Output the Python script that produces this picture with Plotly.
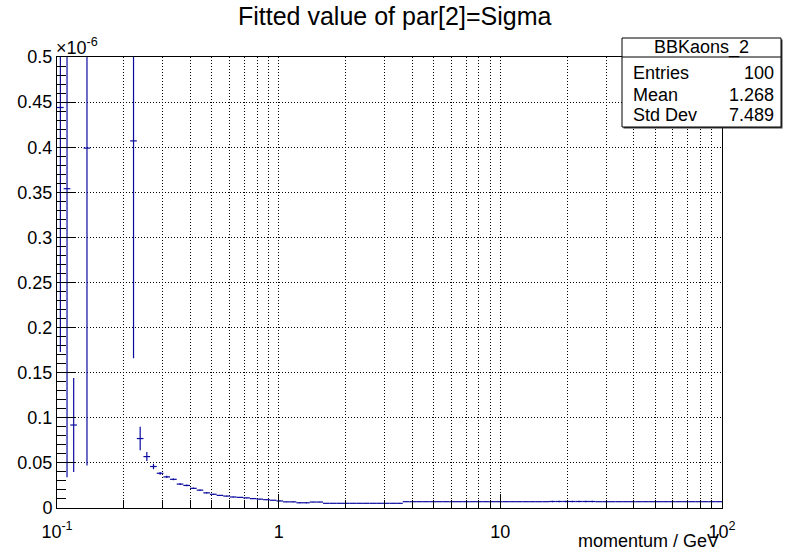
import numpy as np
import plotly.graph_objects as go

# Binning: 100 logarithmic bins from 0.1 to 100 GeV
n_bins = 100
edges = np.logspace(-1, 2, n_bins + 1)

# Fitted sigma per momentum bin, in units of 1e-6 (None = empty bin)
sigma = [
    0.444, 0.354, 0.092, None, 0.399, None, None, None, None, None,
    None, 0.407, 0.077, 0.057, 0.046, 0.0385, 0.0345, 0.0318, 0.0265, 0.0250,
    0.0218, 0.0198, 0.0168, 0.0152, 0.0140, 0.0132, 0.0122, 0.0118, 0.0112, 0.0104,
    0.0098, 0.0092, 0.0086, 0.0078, 0.0068, 0.0068, 0.0058, 0.0058, 0.0066, 0.0066,
    0.0052, 0.0052, 0.0052, 0.0052, 0.0052, 0.0052, 0.0052, 0.0052, 0.0052, 0.0052,
    0.0052, 0.0052, 0.0070, 0.0070, 0.0070, 0.0070, 0.0070, 0.0070, 0.0070, 0.0070,
    0.0070, 0.0070, 0.0070, 0.0070, 0.0070, 0.0070, 0.0070, 0.0070, 0.0070, 0.0070,
    0.0070, 0.0070, 0.0070, 0.0070, 0.0072, 0.0072, 0.0072, 0.0072, 0.0072, 0.0072,
    0.0072, 0.0070, 0.0070, 0.0070, 0.0070, 0.0070, 0.0070, 0.0070, 0.0070, 0.0070,
    0.0070, 0.0070, 0.0070, 0.0070, 0.0070, 0.0070, 0.0070, 0.0070, 0.0070, 0.0070,
]
sigma_err = [
    0.271, 0.320, 0.052, 0.0, 0.352, 0.0, 0.0, 0.0, 0.0, 0.0,
    0.0, 0.241, 0.013, 0.005, 0.003, 0.0015, 0.0012, 0.0010, 0.0010, 0.0010,
    0.0008, 0.0007, 0.0006, 0.0006, 0.0005, 0.0005, 0.0005, 0.0005, 0.0004, 0.0004,
    0.0004, 0.0004, 0.0004, 0.0004, 0.0003, 0.0003, 0.0006, 0.0006, 0.0003, 0.0003,
    0.0002, 0.0002, 0.0002, 0.0002, 0.0002, 0.0002, 0.0002, 0.0002, 0.0002, 0.0002,
    0.0002, 0.0002, 0.0002, 0.0002, 0.0002, 0.0002, 0.0002, 0.0002, 0.0002, 0.0002,
    0.0002, 0.0002, 0.0002, 0.0002, 0.0002, 0.0002, 0.0002, 0.0002, 0.0002, 0.0002,
    0.0002, 0.0002, 0.0002, 0.0002, 0.0008, 0.0008, 0.0008, 0.0008, 0.0008, 0.0008,
    0.0008, 0.0002, 0.0002, 0.0002, 0.0002, 0.0002, 0.0002, 0.0002, 0.0002, 0.0002,
    0.0002, 0.0002, 0.0002, 0.0002, 0.0002, 0.0002, 0.0002, 0.0002, 0.0002, 0.0002,
]

# Statistics box contents
stats_name = "BBKaons_2"
stats_labels = ["Entries", "Mean", "Std Dev"]
stats_values = ["100", "1.268", "7.489"]

# Axis tick labels
x_tickvals = [0.1, 1, 10, 100]
x_ticktext = ["10<sup>-1</sup>", "1", "10", "10<sup>2</sup>"]
x_minorvals = [m * d for d in (0.1, 1, 10) for m in range(2, 10)]

FONT = "Liberation Sans, Arial, Helvetica, sans-serif"
LINE = "rgb(10,10,160)"

# Filled bins only: centre, half-widths and errors
xc, y, ex_lo, ex_hi, ey = [], [], [], [], []
for i, v in enumerate(sigma):
    if v is None:
        continue
    lo, hi = edges[i], edges[i + 1]
    c = 0.5 * (lo + hi)
    xc.append(c)
    y.append(v)
    ex_lo.append(c - lo)
    ex_hi.append(hi - c)
    ey.append(sigma_err[i])

fig = go.Figure()
fig.add_trace(go.Scatter(
    x=xc, y=y, mode="markers",
    marker=dict(size=1, color="rgba(0,0,0,0)"),
    error_x=dict(type="data", symmetric=False, array=ex_hi, arrayminus=ex_lo,
                 color=LINE, thickness=1.2, width=0),
    error_y=dict(type="data", array=ey, color=LINE, thickness=1.2, width=0),
    hoverinfo="x+y",
))

grid_dash = "1px,2px"
fig.update_layout(
    width=788, height=553,
    margin=dict(l=57, r=66, t=57, b=45),
    paper_bgcolor="white", plot_bgcolor="white",
    showlegend=False,
    font=dict(family=FONT, size=18, color="black"),
    xaxis=dict(
        type="log", range=[-1, 2],
        tickmode="array", tickvals=x_tickvals, ticktext=x_ticktext,
        ticks="inside", ticklen=14, tickcolor="black", tickwidth=1,
        ticklabelstandoff=7,
        showline=True, linecolor="black", linewidth=1, mirror=True,
        showgrid=True, gridcolor="black", gridwidth=1, griddash=grid_dash,
        zeroline=False, tickfont=dict(size=18),
        minor=dict(tickmode="array", tickvals=x_minorvals, ticks="inside",
                   ticklen=8, tickcolor="black", tickwidth=1,
                   showgrid=True, gridcolor="black", gridwidth=1,
                   griddash=grid_dash),
    ),
    yaxis=dict(
        range=[0, 0.5], tick0=0, dtick=0.05,
        ticks="inside", ticklen=18, tickcolor="black", tickwidth=1,
        showline=True, linecolor="black", linewidth=1, mirror=True,
        showgrid=True, gridcolor="black", gridwidth=1, griddash=grid_dash,
        zeroline=False, tickfont=dict(size=18),
        minor=dict(dtick=0.01, ticks="inside", ticklen=9,
                   tickcolor="black", tickwidth=1, showgrid=False),
    ),
)

W, H = 665.0, 451.0   # plot-area size in pixels
X0, Y0 = 57.0, 508.0  # plot-area origin (left, bottom)


def px(xp):
    return (xp - X0) / W


def py(yp):
    return (Y0 - yp) / H


annotations = [
    dict(text="Fitted value of par[2]=Sigma", x=px(394), y=py(16),
         xanchor="center", yanchor="middle", showarrow=False,
         font=dict(size=25)),
    dict(text="×10<sup>-6</sup>", x=px(54), y=py(47),
         xanchor="left", yanchor="middle", showarrow=False,
         font=dict(size=18)),
    dict(text="momentum / GeV", x=px(721), y=py(541),
         xanchor="right", yanchor="middle", showarrow=False,
         font=dict(size=18)),
]

# Statistics box
bx0, bx1, by0, by1, bsep = 622, 781, 38, 127, 57
shapes = [
    dict(type="rect", xref="paper", yref="paper",
         x0=px(bx0 + 1.5), x1=px(bx1 + 1.5), y0=py(by1 + 1.5), y1=py(by0 + 1.5),
         line=dict(width=0), fillcolor="rgb(60,60,60)", layer="above"),
    dict(type="rect", xref="paper", yref="paper",
         x0=px(bx0), x1=px(bx1), y0=py(by1), y1=py(by0),
         line=dict(color="black", width=1), fillcolor="white", layer="above"),
    dict(type="line", xref="paper", yref="paper",
         x0=px(bx0), x1=px(bx1), y0=py(bsep), y1=py(bsep),
         line=dict(color="black", width=1), layer="above"),
]
annotations.append(dict(text=stats_name, x=px((bx0 + bx1) / 2), y=py(47.5),
                        xanchor="center", yanchor="middle", showarrow=False,
                        font=dict(size=18)))
row_y = [72.5, 94.5, 115]
for lab, val, ry in zip(stats_labels, stats_values, row_y):
    annotations.append(dict(text=lab, x=px(631), y=py(ry), xanchor="left",
                            yanchor="middle", showarrow=False,
                            font=dict(size=18)))
    annotations.append(dict(text=val, x=px(776), y=py(ry), xanchor="right",
                            yanchor="middle", showarrow=False,
                            font=dict(size=18)))

for a in annotations:
    a.update(xref="paper", yref="paper")
fig.update_layout(annotations=annotations, shapes=shapes)

fig.write_html("out.html")
